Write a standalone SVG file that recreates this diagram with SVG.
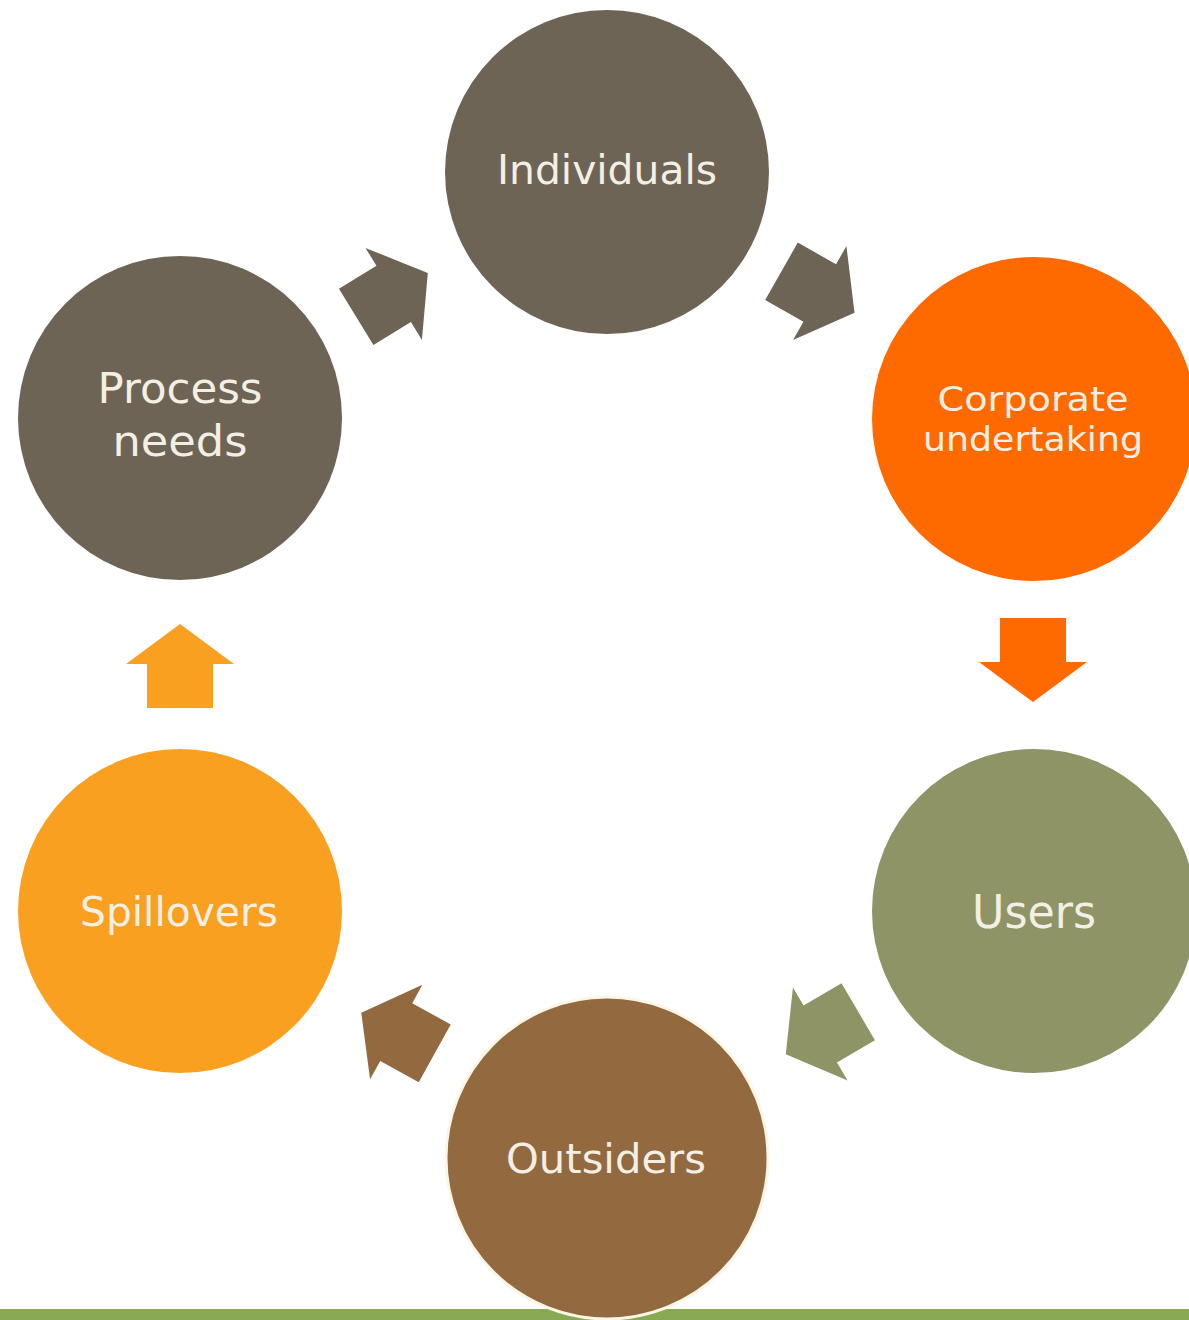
<svg xmlns="http://www.w3.org/2000/svg" width="1189" height="1320" viewBox="0 0 1189 1320">
<defs>
<style>
.lbl{font-family:"DejaVu Sans","Liberation Sans",sans-serif;fill:#f4efe4;text-anchor:middle}
.big{font-size:40px}
.mid{font-size:33px}
</style>
<path id="arr" d="M-42,-33 L2,-33 L2,-54 L42,0 L2,54 L2,33 L-42,33 Z"/>
</defs>
<rect width="1189" height="1320" fill="#ffffff"/>
<rect x="0" y="1309" width="1189" height="11" fill="#8aa955"/>
<g id="connectors">
<use href="#arr" fill="#6e6455" transform="translate(392,295) rotate(-31.5)"/>
<use href="#arr" fill="#6e6455" transform="translate(818,292) rotate(29.6)"/>
<use href="#arr" fill="#ff6a00" transform="translate(1033,660) rotate(90)"/>
<use href="#arr" fill="#8f9466" transform="translate(822,1033) rotate(149.6)"/>
<use href="#arr" fill="#936a40" transform="translate(398,1033) rotate(209)"/>
<use href="#arr" fill="#f9a020" transform="translate(180,666) rotate(-90)"/>
</g>
<g id="individuals">
<circle cx="607" cy="172" r="162" fill="#6e6455"/>
<text class="lbl big" x="607" y="184" textLength="220" lengthAdjust="spacingAndGlyphs">Individuals</text>
</g>
<g id="corporate">
<circle cx="1034" cy="419" r="162" fill="#ff6a00"/>
<text class="lbl mid" x="1033" y="411" textLength="191" lengthAdjust="spacingAndGlyphs">Corporate</text>
<text class="lbl mid" x="1033" y="451" textLength="220" lengthAdjust="spacingAndGlyphs">undertaking</text>
</g>
<g id="users">
<circle cx="1034" cy="911" r="162" fill="#8f9466"/>
<text class="lbl" style="font-size:46px" x="1034" y="928" textLength="124" lengthAdjust="spacingAndGlyphs">Users</text>
</g>
<g id="outsiders">
<circle cx="607" cy="1158" r="161" fill="#936a40" stroke="#fbf6e6" stroke-width="3"/>
<text class="lbl big" x="606" y="1173" textLength="200" lengthAdjust="spacingAndGlyphs">Outsiders</text>
</g>
<g id="spillovers">
<circle cx="180" cy="911" r="162" fill="#f9a020"/>
<text class="lbl big" x="179" y="926" textLength="198" lengthAdjust="spacingAndGlyphs">Spillovers</text>
</g>
<g id="process">
<circle cx="180" cy="418" r="162" fill="#6e6455"/>
<text class="lbl" style="font-size:43px" x="180" y="403" textLength="165" lengthAdjust="spacingAndGlyphs">Process</text>
<text class="lbl" style="font-size:43px" x="180" y="456" textLength="135" lengthAdjust="spacingAndGlyphs">needs</text>
</g>
</svg>
